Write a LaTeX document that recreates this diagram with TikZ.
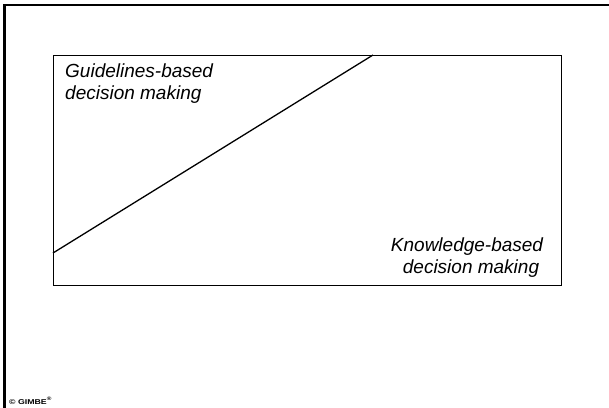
\documentclass[tikz,border=0pt]{standalone}
\usepackage{fontspec}
\setmainfont{Liberation Sans}
\begin{document}
\begin{tikzpicture}[x=1pt,y=-1pt,
  frame/.style={line width=2.2pt,line cap=rect},
  boxline/.style={line width=1.3pt},
  label/.style={font=\fontsize{19}{22}\selectfont\itshape,inner sep=0pt}]
\useasboundingbox (0,0) rectangle (609,407);
% outer frame
\coordinate (ftl) at (4.5,5.3);
\coordinate (ftr) at (612,5.3);
\coordinate (fbl) at (4.5,410);
\draw[frame] (ftr) -- (ftl) -- (fbl);
% inner box
\node[draw,boxline,minimum width=508pt,minimum height=230pt,inner sep=0pt,anchor=north west] (box) at (53,55) {};
% diagonal
\coordinate (d1) at (53,253);
\coordinate (d2) at (373,55);
\draw[boxline] (d1) -- (d2);
% labels
\node[label,align=left,anchor=base west] (g) at (65,99) {Guidelines-based\\decision making};
\node[label,align=center,anchor=base] (k) at (467,273) {Knowledge-based\\\hspace*{8pt}decision making};
% copyright
\node[font=\fontsize{7}{8}\bfseries\selectfont,inner sep=0pt,anchor=base west] (c) at (9,404) {\scalebox{1.25}[1]{\textcopyright\ GIMBE\textsuperscript{\textregistered}}};
\end{tikzpicture}
\end{document}
